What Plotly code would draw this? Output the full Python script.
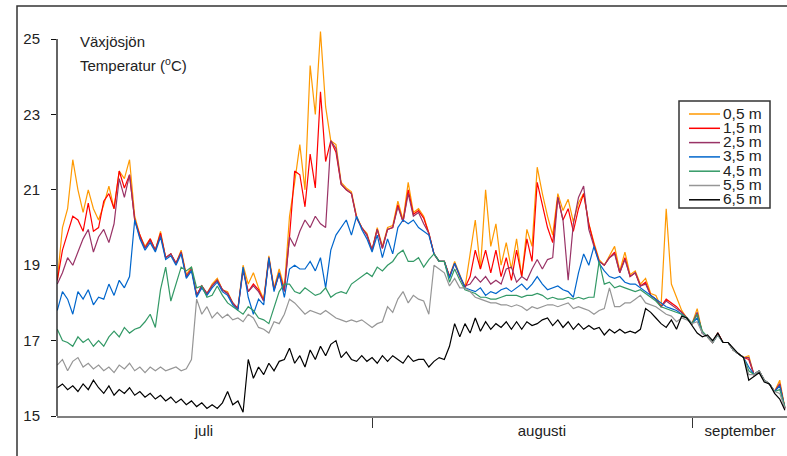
import pandas as pd
import plotly.graph_objects as go

# ---------------- data ----------------
start_time = "2011-07-01 10:00"
n_points = 142  # 12-hourly readings
depths = ["0,5 m", "1,5 m", "2,5 m", "3,5 m", "4,5 m", "5,5 m", "6,5 m"]
colors = ["#FF9900", "#FF0000", "#993366", "#0066CC", "#339966", "#969696", "#000000"]
month_labels = ["juli", "augusti", "september"]
month_label_pos = ["2011-07-15 15:00", "2011-08-17 09:00", "2011-09-05 13:40"]
month_bounds = ["2011-08-01", "2011-09-01"]
y_ticks = [15, 17, 19, 21, 23, 25]

t05 = [18.6, 20.0, 20.5, 21.8, 21.0, 20.4, 21.0, 20.5, 20.2, 20.6,
       21.1, 20.5, 21.5, 21.3, 21.8, 20.3, 19.8, 19.5, 19.7, 19.4,
       19.9, 19.2, 19.3, 19.05, 19.4, 18.75, 18.95, 18.2, 18.45, 18.25,
       18.5, 18.65, 18.35, 18.3, 18.0, 17.85, 19.0, 18.5, 18.8, 18.4,
       18.1, 19.25, 18.4, 18.9, 18.4, 20.3, 21.2, 22.2, 21.0, 24.3,
       23.0, 25.2, 23.2, 22.3, 22.2, 21.2, 21.05, 20.95, 20.3, 20.0,
       19.85, 19.4, 20.0, 19.5, 20.0, 20.05, 20.7, 20.2, 21.2, 20.4,
       20.5, 20.3, 19.85, 19.3, 19.1, 19.1, 18.7, 19.1, 18.75, 18.4,
       19.3, 20.2, 18.9, 21.0, 19.5, 20.1, 19.0, 19.6, 18.9, 19.7,
       18.7, 19.95, 19.5, 21.6, 20.9, 20.3, 19.8, 20.9, 20.45, 20.75,
       20.15, 20.65, 20.9, 20.1, 19.6, 19.15, 19.0, 19.25, 19.5, 18.85,
       19.35, 18.75, 18.85, 18.5, 18.65, 18.25, 18.2, 17.9, 20.5, 18.5,
       18.15, 17.8, 17.6, 17.45, 17.85, 17.2, 17.1, 16.95, 17.2, 16.95,
       16.95, 16.75, 16.65, 16.55, 16.6, 16.1, 16.2, 15.95, 15.85, 15.65,
       15.95, 15.2]

t15 = [18.6, 19.4, 19.85, 20.3, 20.2, 19.9, 20.65, 19.9, 20.0, 20.7,
       20.9, 20.5, 21.5, 21.05, 21.4, 20.2, 19.8, 19.45, 19.7, 19.4,
       19.85, 19.2, 19.3, 19.05, 19.35, 18.7, 18.9, 18.2, 18.45, 18.25,
       18.45, 18.6, 18.35, 18.25, 18.0, 17.85, 18.9, 18.3, 18.5, 18.35,
       18.05, 19.2, 18.35, 18.8, 18.35, 19.75, 21.5, 21.4, 20.55, 21.95,
       21.05, 23.6, 21.75, 22.3, 22.0, 21.15, 21.0, 20.9, 20.25, 20.0,
       19.8, 19.4, 19.95, 19.45, 19.95, 20.0, 20.6, 20.15, 21.0, 20.35,
       20.45, 20.25, 19.85, 19.3, 19.1, 19.1, 18.7, 19.05, 18.7, 18.4,
       18.7, 19.4, 18.9, 19.4, 18.8, 19.4, 18.7, 19.2, 18.6, 19.4,
       18.7, 19.7, 19.1, 21.2, 20.6, 20.0, 19.6, 20.8, 20.2, 20.5,
       19.9, 20.5, 20.9, 20.1, 19.55, 19.1, 19.0, 19.2, 19.35, 18.8,
       19.2, 18.7, 18.8, 18.45, 18.55, 18.2, 18.1, 17.9, 18.1, 18.0,
       17.9, 17.75, 17.6, 17.45, 17.7, 17.2, 17.1, 16.95, 17.2, 16.95,
       16.95, 16.75, 16.65, 16.55, 16.5, 16.1, 16.2, 15.95, 15.85, 15.65,
       15.85, 15.2]

t25 = [18.5, 18.8, 19.2, 19.0, 19.35, 19.7, 19.95, 19.35, 19.75, 19.95,
       19.6, 20.1, 21.3, 20.8, 21.4, 20.2, 19.75, 19.45, 19.65, 19.4,
       19.8, 19.2, 19.3, 19.05, 19.35, 18.7, 18.9, 18.2, 18.45, 18.25,
       18.45, 18.6, 18.35, 18.25, 18.0, 17.85, 18.85, 18.3, 18.45, 18.3,
       18.05, 19.15, 18.35, 18.75, 18.3, 19.75, 19.5, 19.9, 20.2, 20.0,
       20.3, 20.1, 20.0, 22.3, 22.1, 21.15, 21.0, 20.9, 20.25, 20.0,
       19.8, 19.4, 19.95, 19.45, 19.95, 20.0, 20.55, 20.15, 20.9, 20.3,
       20.4, 20.1, 19.85, 19.3, 19.1, 19.1, 18.7, 19.05, 18.7, 18.45,
       18.5, 18.7, 18.55, 18.7, 18.5, 18.6, 18.5, 18.9, 18.95, 18.55,
       18.7, 18.6, 18.9, 19.15, 18.9, 19.15, 19.2, 20.8, 20.2, 18.6,
       20.1, 20.8, 21.1, 19.95, 19.5, 19.1, 19.0, 19.2, 19.3, 18.8,
       19.15, 18.7, 18.8, 18.45, 18.5, 18.2, 18.1, 17.9, 18.05, 17.95,
       17.85, 17.75, 17.6, 17.45, 17.75, 17.2, 17.1, 16.95, 17.2, 16.95,
       16.95, 16.75, 16.65, 16.55, 16.55, 16.1, 16.2, 15.95, 15.85, 15.65,
       15.85, 15.2]

t35 = [17.8, 18.3, 18.1, 17.7, 18.3, 18.1, 18.35, 17.95, 18.15, 18.1,
       18.5, 18.2, 18.6, 18.4, 18.7, 20.2, 19.7, 19.4, 19.6, 19.35,
       19.75, 19.15, 19.25, 19.0, 19.3, 18.65, 18.85, 18.15, 18.4, 18.2,
       18.4, 18.55, 18.3, 18.2, 17.95, 17.8, 18.95, 18.15, 17.7, 18.1,
       17.95, 19.2, 18.3, 18.8, 18.15, 18.9, 19.0, 18.9, 18.9, 19.1,
       18.85, 19.2, 18.4, 19.4, 19.8, 20.0, 20.2, 19.8, 20.3, 19.95,
       19.7, 19.35, 19.8, 19.2, 19.7, 19.3, 20.0, 20.2, 20.1, 20.2,
       20.0, 19.9, 19.8, 19.3, 19.1, 19.1, 18.65, 19.05, 18.7, 18.4,
       18.35, 18.3, 18.4, 18.2, 18.3, 18.25, 18.35, 18.4, 18.3, 18.4,
       18.5, 18.35, 18.5, 18.7, 18.5, 18.35, 18.4, 18.45, 18.35, 18.3,
       18.15, 18.8, 19.3, 19.0, 19.5, 19.05, 18.85, 18.7, 18.65, 18.7,
       18.55, 18.5, 18.5, 18.4, 18.3, 18.2, 18.1, 18.0, 17.9, 17.85,
       17.8, 17.7, 17.6, 17.45, 17.6, 17.2, 17.1, 16.95, 17.15, 16.95,
       16.95, 16.75, 16.65, 16.55, 16.3, 16.1, 16.2, 15.95, 15.85, 15.65,
       15.8, 15.2]

t45 = [17.3, 17.0, 16.95, 16.85, 17.1, 16.95, 17.05, 16.85, 17.0, 16.85,
       17.1, 17.25, 17.1, 17.35, 17.2, 17.3, 17.35, 17.5, 17.7, 17.35,
       18.35, 18.95, 18.05, 18.5, 18.95, 18.85, 18.95, 18.4, 18.45, 18.15,
       18.2, 18.45, 18.2, 18.0, 17.9, 17.8, 17.7, 17.9, 17.8, 17.6,
       17.55, 17.45, 17.9, 18.3, 18.5, 18.5, 18.3, 18.25, 18.4, 18.3,
       18.2, 18.25, 18.4, 18.15, 18.25, 18.3, 18.25, 18.5, 18.6, 18.7,
       18.8, 18.7, 18.95, 18.85, 19.0, 19.1, 19.3, 19.4, 19.1, 19.1,
       19.2, 18.95, 19.15, 19.3, 19.1, 19.1, 18.55, 18.9, 18.6, 18.35,
       18.3, 18.25, 18.15, 18.15, 18.1, 18.1, 18.15, 18.2, 18.2, 18.2,
       18.15, 18.2, 18.2, 18.25, 18.2, 18.1, 18.15, 18.1, 18.1, 18.15,
       18.1, 18.15, 18.1, 18.15, 18.15, 19.1, 18.5, 18.55, 18.4, 18.45,
       18.4, 18.35, 18.3, 18.35, 18.25, 18.15, 18.05, 17.9, 17.85, 17.8,
       17.75, 17.7, 17.6, 17.45, 17.7, 17.25, 17.1, 16.95, 17.15, 16.95,
       16.95, 16.75, 16.65, 16.55, 16.2, 16.1, 16.2, 15.95, 15.85, 15.65,
       15.7, 15.25]

t55 = [16.35, 16.5, 16.2, 16.45, 16.55, 16.3, 16.4, 16.25, 16.35, 16.2,
       16.3, 16.15, 16.35, 16.25, 16.4, 16.2, 16.3, 16.15, 16.3, 16.2,
       16.3, 16.2, 16.25, 16.3, 16.2, 16.25, 16.5, 18.1, 17.7, 17.9,
       17.6, 17.75, 17.6, 17.7, 17.55, 17.6, 17.5, 17.7, 17.6, 17.35,
       17.3, 17.2, 17.5, 17.45, 17.7, 18.1, 18.0, 17.85, 17.7, 17.8,
       17.75, 17.7, 17.8, 17.7, 17.6, 17.55, 17.5, 17.55, 17.5, 17.55,
       17.45, 17.35, 17.45, 17.5, 17.9, 17.75, 18.1, 18.3, 18.0, 18.2,
       18.1, 18.05, 17.7, 19.0, 18.9, 18.8, 18.45, 18.65, 18.4, 18.4,
       18.3, 18.15, 18.1, 18.05, 18.0, 18.0, 17.95, 17.95, 17.9, 17.95,
       17.9, 17.8, 17.9, 17.85, 17.9, 17.95, 17.95, 17.9, 17.95, 18.0,
       17.85, 17.9, 17.85, 17.8, 17.7, 17.8, 17.85, 18.4, 17.9, 17.9,
       18.0, 18.0, 18.1, 18.2, 18.0, 17.95, 17.9, 17.8, 17.7, 17.65,
       17.5, 17.6, 17.55, 17.45, 17.5, 17.2, 17.1, 16.95, 17.15, 16.95,
       16.95, 16.75, 16.65, 16.55, 16.1, 16.1, 16.2, 15.95, 15.85, 15.65,
       15.6, 15.2]

t65 = [15.75, 15.85, 15.7, 15.8, 15.65, 15.85, 15.7, 15.95, 15.75, 15.6,
       15.8, 15.55, 15.7, 15.6, 15.75, 15.55, 15.65, 15.5, 15.6, 15.45,
       15.55, 15.4, 15.5, 15.35, 15.45, 15.3, 15.4, 15.25, 15.35, 15.2,
       15.3, 15.2, 15.35, 15.65, 15.3, 15.4, 15.1, 16.5, 16.0, 16.3,
       16.1, 16.4, 16.2, 16.45, 16.5, 16.8, 16.4, 16.6, 16.3, 16.75,
       16.5, 16.85, 16.6, 16.9, 17.0, 16.55, 16.7, 16.5, 16.45, 16.6,
       16.45, 16.55, 16.4, 16.6, 16.45, 16.6, 16.5, 16.4, 16.6, 16.45,
       16.5, 16.5, 16.3, 16.45, 16.55, 16.5, 16.85, 17.45, 17.1, 17.45,
       17.2, 17.6, 17.25, 17.5, 17.3, 17.45, 17.35, 17.5, 17.3, 17.5,
       17.3, 17.5, 17.4, 17.45, 17.55, 17.6, 17.4, 17.55, 17.35, 17.5,
       17.3, 17.45, 17.3, 17.4, 17.3, 17.35, 17.15, 17.3, 17.2, 17.3,
       17.2, 17.25, 17.2, 17.3, 17.85, 17.75, 17.6, 17.45, 17.35, 17.55,
       17.3, 17.65, 17.6, 17.4, 17.2, 17.1, 17.15, 17.0, 17.2, 16.95,
       16.95, 16.8, 16.65, 16.55, 15.95, 16.05, 16.15, 15.9, 15.85, 15.6,
       15.45, 15.15]

series = [t05, t15, t25, t35, t45, t55, t65]
for s in series:
    assert len(s) == n_points, len(s)

times = pd.date_range(start_time, periods=n_points, freq="12h")

# ---------------- figure ----------------
W, H = 787, 456
L, R, T, B = 57, 0, 24, 40
PW, PH = W - L - R, H - T - B


def px(x):
    return (x - L) / PW


def py(y):
    return (H - B - y) / PH


fig = go.Figure()
for name, col, vals in zip(depths, colors, series):
    fig.add_trace(go.Scatter(x=times, y=vals, mode="lines", name=name,
                             line=dict(color=col, width=1.2),
                             showlegend=False, hoverinfo="skip"))

font_family = "Liberation Sans, Arial, sans-serif"
shapes = []
annotations = []

# outer chart-area frame (top and left edges)
shapes.append(dict(type="path", xref="paper", yref="paper",
                   path=f"M {px(17)},{py(470)} L {px(17)},{py(6)} L {px(800)},{py(6)}",
                   line=dict(color="#333333", width=1.5)))
# y axis line (only up to 25)
shapes.append(dict(type="line", xref="paper", yref="y", x0=0, x1=0,
                   y0=y_ticks[0], y1=y_ticks[-1], line=dict(color="#111111", width=1.3)))

# legend box
shapes.append(dict(type="rect", xref="paper", yref="paper",
                   x0=px(679), x1=px(770), y0=py(208), y1=py(101),
                   line=dict(color="#333333", width=1.5), fillcolor="white", layer="above"))
for k, (name, col) in enumerate(zip(depths, colors)):
    yk = 113 + 14.3 * k
    shapes.append(dict(type="line", xref="paper", yref="paper",
                       x0=px(689), x1=px(720), y0=py(yk + 1), y1=py(yk + 1),
                       line=dict(color=col, width=1.5), layer="above"))
    annotations.append(dict(text=name, xref="paper", yref="paper", x=px(721), y=py(yk),
                            xanchor="left", yanchor="middle", showarrow=False,
                            font=dict(size=15.5, color="#222222", family=font_family)))

annotations.append(dict(text="Växjösjön", xref="paper", yref="paper", x=px(78), y=py(41),
                        xanchor="left", yanchor="middle", showarrow=False,
                        font=dict(size=15, color="#222222", family=font_family)))
annotations.append(dict(text="Temperatur (<sup>o</sup>C)", xref="paper", yref="paper",
                        x=px(78), y=py(64), xanchor="left", yanchor="middle", showarrow=False,
                        font=dict(size=15, color="#222222", family=font_family)))

fig.update_layout(
    width=W, height=H,
    margin=dict(l=L, r=R, t=T, b=B, pad=0),
    paper_bgcolor="white", plot_bgcolor="white",
    font=dict(family=font_family, size=15, color="#222222"),
    showlegend=False,
    shapes=shapes, annotations=annotations,
    xaxis=dict(type="date", range=["2011-07-01 09:18", "2011-09-10 02:53"],
               tickmode="array", tickvals=month_label_pos, ticktext=month_labels,
               ticks="", showgrid=False, zeroline=False,
               showline=True, linecolor="#808080", linewidth=2,
               tickfont=dict(size=15, color="#222222"),
               minor=dict(tickmode="array", tickvals=month_bounds, ticks="outside",
                          ticklen=10, tickwidth=1, tickcolor="#333333", showgrid=False)),
    yaxis=dict(range=[15, 25.4], tickmode="array", tickvals=y_ticks,
               ticks="outside", ticklen=5, tickwidth=1, tickcolor="#111111",
               showgrid=False, zeroline=False, showline=False,
               tickfont=dict(size=15, color="#222222"), ticklabelstandoff=8),
)

fig.write_html("out.html", config={"displayModeBar": False},
               post_script="document.body.style.margin='0';document.body.style.overflow='hidden';")
